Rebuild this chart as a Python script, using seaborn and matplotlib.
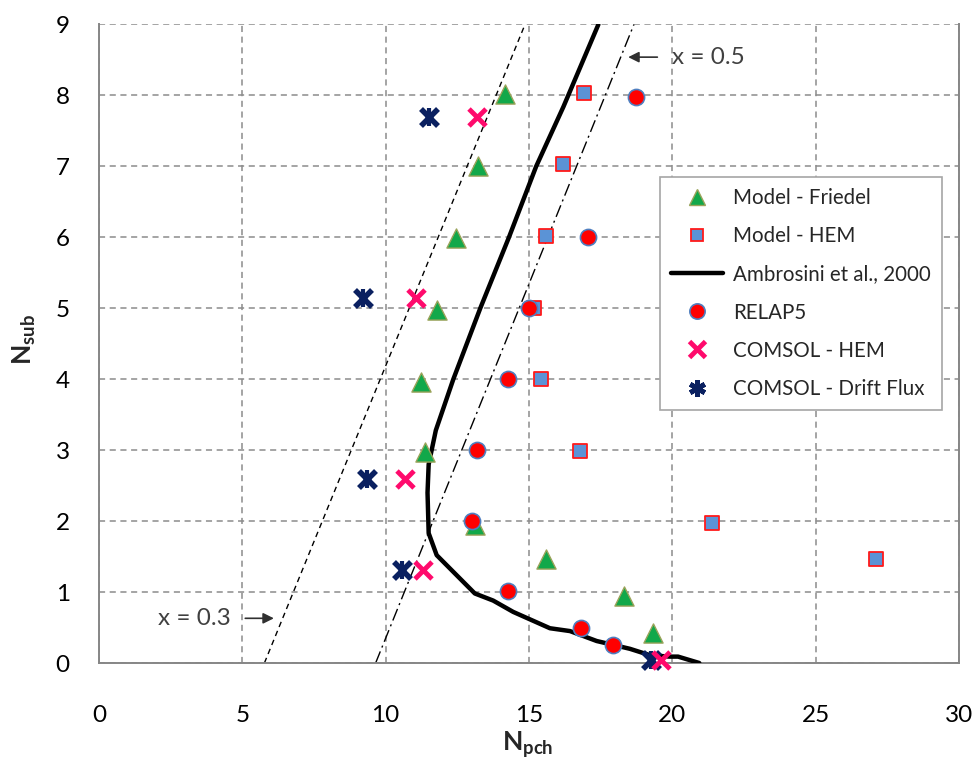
import numpy as np
import pandas as pd
import matplotlib
matplotlib.use("Agg")
import matplotlib.pyplot as plt
import seaborn as sns
from matplotlib.lines import Line2D

# ---------------- data ----------------
friedel_x = [14.18, 13.23, 12.47, 11.78, 11.22, 11.37, 13.11, 15.59, 18.32, 19.31]
friedel_y = [8.02, 7.01, 5.99, 4.98, 3.96, 2.97, 1.95, 1.46, 0.94, 0.42]

hem_x = [16.92, 16.17, 15.59, 15.17, 15.41, 16.78, 21.38, 27.12]
hem_y = [8.03, 7.03, 6.02, 5.00, 4.00, 2.99, 1.97, 1.46]

relap_x = [18.75, 17.07, 14.99, 14.28, 13.20, 13.00, 14.28, 16.83, 17.94]
relap_y = [7.98, 6.00, 5.00, 4.00, 3.00, 2.00, 1.01, 0.49, 0.25]

comsol_hem_x = [13.17, 11.06, 10.67, 11.31, 19.62]
comsol_hem_y = [7.70, 5.15, 2.59, 1.31, 0.04]

drift_x = [11.51, 9.22, 9.34, 10.56, 19.27]
drift_y = [7.70, 5.15, 2.59, 1.31, 0.04]

ambrosini_x = [20.94, 20.20, 19.90, 19.22, 18.52, 17.36, 16.43, 15.73, 14.45,
               13.75, 13.11, 11.78, 11.50, 11.46, 11.50, 11.75, 12.36, 13.30,
               14.30, 15.25, 16.20, 17.42]
ambrosini_y = [0.00, 0.09, 0.09, 0.11, 0.20, 0.31, 0.45, 0.49, 0.72,
               0.88, 0.98, 1.52, 1.83, 2.40, 2.80, 3.28, 4.00, 5.00,
               6.00, 7.00, 7.84, 9.00]

x03_x = [5.77, 14.86]
x03_y = [0.0, 9.0]
x05_x = [9.65, 18.66]
x05_y = [0.0, 9.0]

x_ticks = [0, 5, 10, 15, 20, 25, 30]
y_ticks = [0, 1, 2, 3, 4, 5, 6, 7, 8, 9]

# ---------------- style ----------------
sns.set_theme(style="white")
plt.rcParams["font.family"] = ["Lato", "DejaVu Sans"]
plt.rcParams["mathtext.fontset"] = "custom"
plt.rcParams["mathtext.rm"] = "Lato"
plt.rcParams["mathtext.bf"] = "Lato:bold"
plt.rcParams["mathtext.it"] = "Lato:italic"

c_fr_face, c_fr_edge = "#12a84a", "#9aa35a"
c_hem_face, c_hem_edge = "#5b93d6", "#ff1a1a"
c_rel_face, c_rel_edge = "#ff0000", "#4f7fc0"
c_chem = "#ff0a6c"
c_drift = "#0a2060"

fig = plt.figure(figsize=(9.79, 7.63), dpi=100)
ax = fig.add_axes([99 / 979, 1 - 663 / 763, 860 / 979, (663 - 24.5) / 763])

grid_kw = dict(color="#8c8c8c", lw=1.1, ls=(0, (4, 3)))
ax.set_axisbelow(True)
ax.grid(True, **grid_kw)

# reference quality lines
sns.lineplot(x=x03_x, y=x03_y, ax=ax, color="black", lw=1.0,
             linestyle=(0, (4, 3)), sort=False, estimator=None)
sns.lineplot(x=x05_x, y=x05_y, ax=ax, color="black", lw=1.0,
             linestyle=(0, (9, 3, 1.5, 3)), sort=False, estimator=None)

# Ambrosini curve
sns.lineplot(x=ambrosini_x, y=ambrosini_y, ax=ax, color="black", lw=3.2,
             sort=False, estimator=None, zorder=3)

sns.scatterplot(x=friedel_x, y=friedel_y, ax=ax, marker="^", s=190,
                color=c_fr_face, edgecolor=c_fr_edge, linewidth=1.0,
                zorder=4, clip_on=False)
sns.scatterplot(x=hem_x, y=hem_y, ax=ax, marker="s", s=95,
                color=c_hem_face, edgecolor=c_hem_edge, linewidth=1.3,
                zorder=4, clip_on=False)
sns.scatterplot(x=relap_x, y=relap_y, ax=ax, marker="o", s=135,
                color=c_rel_face, edgecolor=c_rel_edge, linewidth=1.2,
                zorder=5, clip_on=False)
sns.scatterplot(x=drift_x, y=drift_y, ax=ax, marker="x", s=150,
                color=c_drift, linewidth=4.0, zorder=6, clip_on=False)
sns.scatterplot(x=drift_x, y=drift_y, ax=ax, marker="|", s=150,
                color=c_drift, linewidth=3.0, zorder=6, clip_on=False)
sns.scatterplot(x=comsol_hem_x, y=comsol_hem_y, ax=ax, marker="x", s=150,
                color=c_chem, linewidth=3.5, zorder=7, clip_on=False)

# annotations
ax.annotate("x = 0.5", xy=(18.46, 8.54), xytext=(19.98, 8.54),
            ha="left", va="center", fontsize=17.5, color="#404040",
            arrowprops=dict(arrowstyle="-|>", color="#303030", lw=1.2,
                            mutation_scale=16, shrinkA=8, shrinkB=0))
ax.annotate("x = 0.3", xy=(6.1, 0.63), xytext=(4.6, 0.63),
            ha="right", va="center", fontsize=17.5, color="#404040",
            arrowprops=dict(arrowstyle="-|>", color="#303030", lw=1.2,
                            mutation_scale=16, shrinkA=8, shrinkB=0))

# axes
ax.set_xlim(0, 30)
ax.set_ylim(0, 9)
ax.set_xticks(x_ticks)
ax.set_yticks(y_ticks)
ax.set_xticklabels([str(t) for t in x_ticks])
ax.set_yticklabels([str(t) for t in y_ticks])
ax.tick_params(axis="both", length=0, labelsize=17.5, colors="black")
ax.tick_params(axis="x", pad=30)
ax.tick_params(axis="y", pad=21)
for side in ["left", "bottom", "right"]:
    ax.spines[side].set_visible(True)
    ax.spines[side].set_color("#868686")
    ax.spines[side].set_linewidth(1.4)
ax.spines["top"].set_visible(False)

ax.set_xlabel(r"$\mathbf{N_{pch}}$", fontsize=19)
ax.set_ylabel(r"$\mathbf{N_{sub}}$", fontsize=19)
ax.xaxis.set_label_coords((528 - 99) / 860, -(730 - 663) / 638.5)
ax.yaxis.set_label_coords(-(99 - 38) / 860, (663 - 340) / 638.5)

handles = [
    Line2D([], [], ls="none", marker="^", ms=11, mfc=c_fr_face, mec=c_fr_edge, mew=1.0),
    Line2D([], [], ls="none", marker="s", ms=8.5, mfc=c_hem_face, mec=c_hem_edge, mew=1.3),
    Line2D([], [], color="black", lw=3.2),
    Line2D([], [], ls="none", marker="o", ms=11, mfc=c_rel_face, mec=c_rel_edge, mew=1.2),
    Line2D([], [], ls="none", marker="x", ms=11, color=c_chem, mew=3.5),
    Line2D([], [], ls="none", marker=(6, 2, 0), ms=12, color=c_drift, mew=3.5),
]
labels = ["Model - Friedel", "Model - HEM", "Ambrosini et al., 2000",
          "RELAP5", "COMSOL - HEM", "COMSOL - Drift Flux"]
leg = ax.legend(handles, labels, loc="upper left",
                bbox_to_anchor=((660 - 99) / 860, (663 - 177) / 638.5),
                fontsize=14.8, frameon=True, fancybox=False, framealpha=1,
                edgecolor="#a6a6a6", borderpad=0.55, labelspacing=0.88,
                handlelength=2.5, handletextpad=0.5, borderaxespad=0)
leg.get_frame().set_linewidth(1.2)
leg.set_zorder(10)

fig.savefig("out.png", dpi=100)
